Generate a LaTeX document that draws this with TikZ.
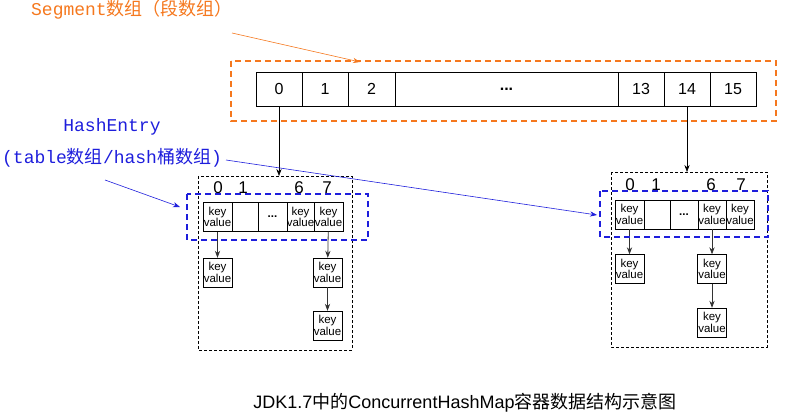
\documentclass[tikz,border=0pt]{standalone}
\usepackage{fontspec}
\setmainfont{Liberation Sans}
\newfontfamily\cjk{Noto Sans CJK SC}
\newfontfamily\monof{Liberation Mono}
\usetikzlibrary{arrows.meta,positioning}
\definecolor{segorange}{RGB}{245,120,30}
\definecolor{hashblue}{RGB}{30,30,220}
\begin{document}
\begin{tikzpicture}[x=1pt,y=-1pt,
    cell/.style={draw,minimum height=34pt,inner sep=0pt,font=\fontsize{16}{16}\selectfont},
    kv/.style={draw,minimum width=29pt,minimum height=29pt,inner sep=0pt,align=center,font=\fontsize{11.5}{11.5}\selectfont},
    idx/.style={font=\fontsize{17}{17}\selectfont},
    seg/.style={draw,densely dashed,thin},
    lbl/.style={font=\fontsize{18}{18}\selectfont},
    >={Stealth[length=7pt]}]
    \useasboundingbox (0,0) rectangle (794,415);

    % Segment array
    \foreach \name/\xa/\xb/\txt in {s0/256/302/0,s1/302/348/1,s2/348/395/2,sd/395/618/{\textbf{...}},s13/618/664/13,s14/664/710/14,s15/710/756/15}
        \node[cell,minimum width=\xb-\xa] (\name) at ({(\xa+\xb)/2},89) {\txt};
    \draw[segorange,line width=1.8pt,dash pattern=on 6pt off 4pt] (231,61) rectangle (776,121);
    \node[segorange,lbl] (seglbl) at (132,10) {\monof Segment\cjk 数组（段数组）};
    \coordinate (segfrom) at (232,33);
    \draw[segorange,semithick,->] (segfrom) -- (360,62);

    % Left segment
    \draw[seg] (198,176) rectangle (352,350);
    \coordinate (lseg) at (279,176);
    \foreach \i/\x in {0/218,1/243,6/299,7/327}
        \node[idx] at (\x,188) {\i};
    \node[kv] (l0) at (217.5,217) {key\\value};
    \node[kv,minimum width=26pt] (l1) at (245,217) {};
    \node[kv] (ld) at (272.5,217) {\textbf{...}};
    \node[kv,minimum width=27pt] (l6) at (300.5,217) {key\\value};
    \node[kv] (l7) at (328.5,217) {key\\value};
    \node[kv] (l0a) at (217.5,272.5) {key\\value};
    \node[kv] (l7a) at (327.5,272.5) {key\\value};
    \node[kv] (l7b) at (327.5,325.5) {key\\value};
    \draw[->,thick,gray!40!black] (l0) -- (l0a);
    \draw[->,thick,gray!40!black] (l7) -- (l7a);
    \draw[->,thick,gray!40!black] (l7a) -- (l7b);
    \draw[hashblue,line width=1.8pt,dash pattern=on 6pt off 4pt] (187,194) rectangle (368,240);

    % Right segment
    \draw[seg] (611,172) rectangle (767,347);
    \coordinate (rseg) at (687,172);
    \foreach \i/\x in {0/630,1/656,6/711,7/741}
        \node[idx] at (\x,185) {\i};
    \node[kv] (r0) at (629.5,214.5) {key\\value};
    \node[kv,minimum width=26pt] (r1) at (657,214.5) {};
    \node[kv,minimum width=28pt] (rd) at (684,214.5) {\textbf{...}};
    \node[kv,minimum width=28pt] (r6) at (712,214.5) {key\\value};
    \node[kv,minimum width=28pt] (r7) at (740,214.5) {key\\value};
    \node[kv] (r0a) at (629.5,269) {key\\value};
    \node[kv] (r6a) at (712,269) {key\\value};
    \node[kv] (r6b) at (712,322.5) {key\\value};
    \draw[->,thick,gray!40!black] (r0) -- (r0a);
    \draw[->,thick,gray!40!black] (r6) -- (r6a);
    \draw[->,thick,gray!40!black] (r6a) -- (r6b);
    \draw[hashblue,line width=1.8pt,dash pattern=on 6pt off 4pt] (600,191) rectangle (768,237);

    % Segment -> HashEntry arrays
    \draw[semithick,->] (s0) -- (lseg);
    \draw[semithick,->] (s14) -- (rseg);

    % HashEntry labels
    \node[hashblue,lbl] (helbl) at (112,127) {\monof HashEntry};
    \node[hashblue,lbl] (tbllbl) at (112,158) {\monof(table\cjk 数组\monof/hash\cjk 桶数组\monof)};
    \coordinate (hefrom) at (105,180);
    \draw[hashblue,semithick,->] (hefrom) -- (180,207);
    \coordinate (tblfrom) at (226,160);
    \draw[hashblue,semithick,->] (tblfrom) -- (597,215);

    % Caption
    \node[lbl] (caption) at (465,403) {JDK1.7\cjk 中的\rmfamily ConcurrentHashMap\cjk 容器数据结构示意图};
\end{tikzpicture}
\end{document}
